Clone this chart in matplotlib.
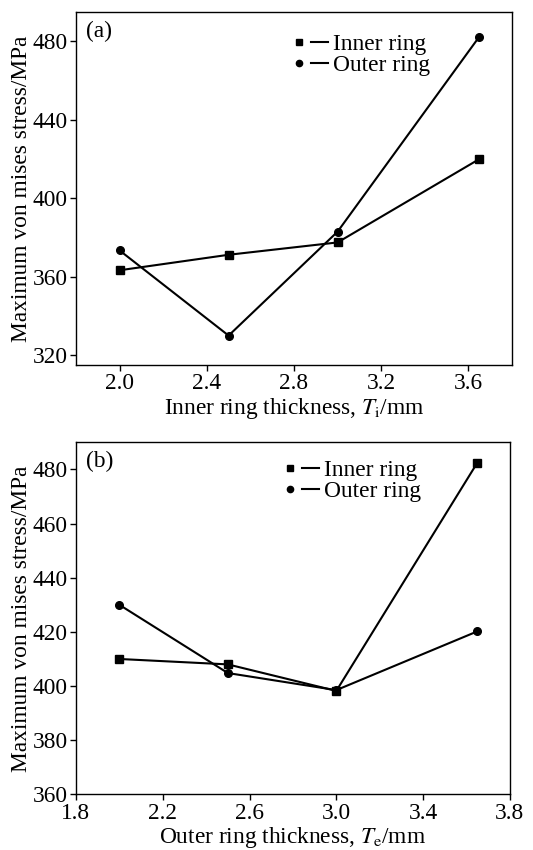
import numpy as np
import matplotlib
matplotlib.use('Agg')
import matplotlib.pyplot as plt
from matplotlib.lines import Line2D
from matplotlib.legend_handler import HandlerTuple

plt.rcParams['font.family'] = 'Liberation Serif'
plt.rcParams['mathtext.fontset'] = 'stix'

# (a) varying inner ring thickness
thick_a = [2.0, 2.5, 3.0, 3.65]
inner_a = [363.3, 371.2, 377.5, 420.0]
outer_a = [373.4, 330.0, 383.0, 482.4]

# (b) varying outer ring thickness
thick_b = [2.0, 2.5, 3.0, 3.65]
inner_b = [410.0, 408.0, 398.2, 482.5]
outer_b = [430.0, 404.8, 398.5, 420.2]

fig = plt.figure(figsize=(5.33, 8.5), dpi=100)
ax1 = fig.add_axes([0.1426, 0.5706, 0.818, 0.4153])
ax2 = fig.add_axes([0.1426, 0.0655, 0.814, 0.414])

FS = 16.8


def draw(ax, x, inner, outer, tag, xlabel, ylim, yticks, xticks, leg_anchor):
    ax.plot(x, inner, color='black', lw=1.5, marker='s', ms=6)
    ax.plot(x, outer, color='black', lw=1.5, marker='o', ms=5.5)
    ax.set_xlim(1.8, 3.8)
    ax.set_ylim(*ylim)
    ax.set_xticks(xticks)
    ax.set_yticks(yticks)
    ax.set_xticklabels([f'{v:.1f}' for v in xticks])
    ax.tick_params(direction='out', length=4, width=1, labelsize=FS,
                   pad=2, top=False, right=False)
    for s in ax.spines.values():
        s.set_linewidth(1.0)
    ax.set_xlabel(xlabel, fontsize=FS, labelpad=1)
    ax.set_ylabel('Maximum von mises stress/MPa', fontsize=FS, labelpad=0.5)
    ax.text(0.022, 0.975, tag, transform=ax.transAxes, fontsize=FS,
            va='top', ha='left')

    sq = Line2D([], [], color='black', marker='s', ms=4.5, ls='none')
    dot = Line2D([], [], color='black', marker='o', ms=4.5, ls='none')
    ln = Line2D([], [], color='black', lw=1.5)
    ax.legend([(sq, ln), (dot, ln)], ['Inner ring', 'Outer ring'],
              handler_map={tuple: HandlerTuple(ndivide=None, pad=0.15)},
              loc='upper left', bbox_to_anchor=leg_anchor, frameon=False,
              fontsize=FS, handlelength=1.6, handletextpad=0.2,
              labelspacing=0.0, borderpad=0.3)


draw(ax1, thick_a, inner_a, outer_a, '(a)',
     'Inner ring thickness, $T_{\\rm i}$/mm', (315, 495),
     [320, 360, 400, 440, 480], [2.0, 2.4, 2.8, 3.2, 3.6], (0.45, 0.992))
draw(ax2, thick_b, inner_b, outer_b, '(b)',
     'Outer ring thickness, $T_{\\rm e}$/mm', (360, 490),
     [360, 380, 400, 420, 440, 460, 480], [1.8, 2.2, 2.6, 3.0, 3.4, 3.8],
     (0.431, 1.004))

fig.savefig('out.png', dpi=100)
